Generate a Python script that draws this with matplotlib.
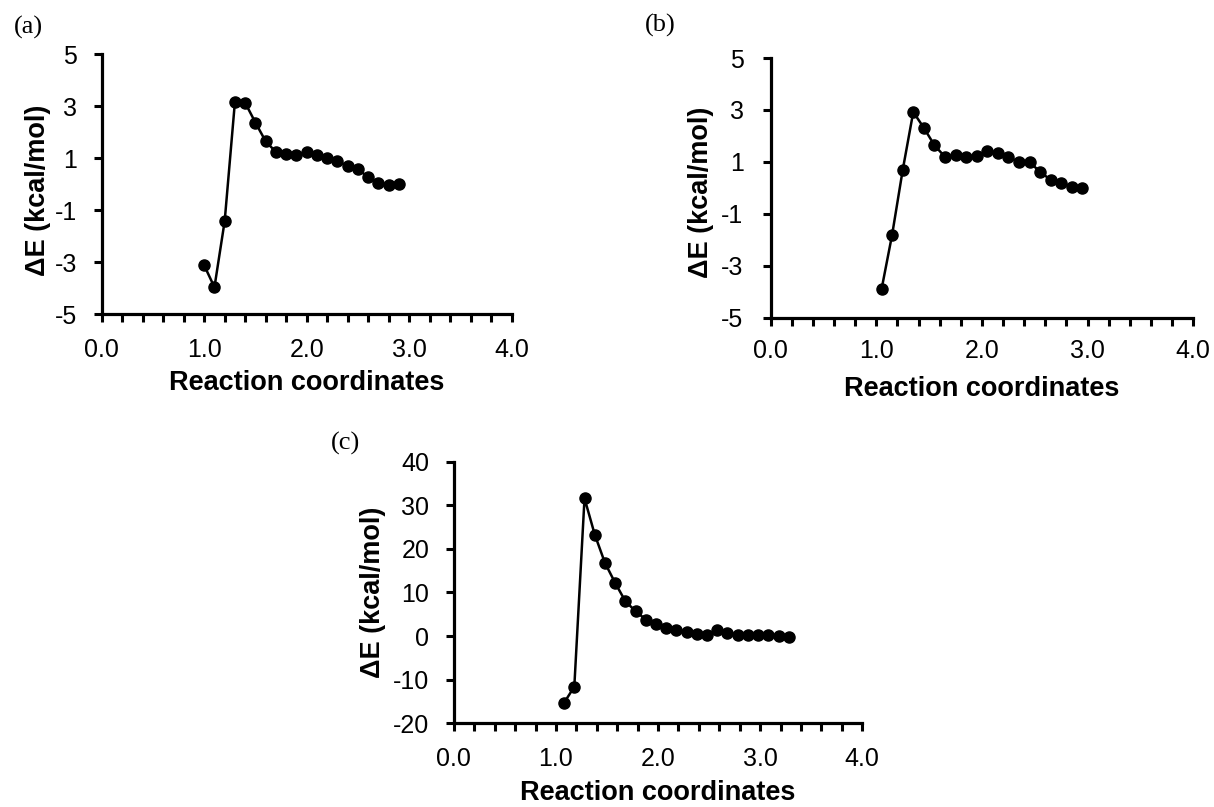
import numpy as np
import matplotlib
matplotlib.use("Agg")
import matplotlib.pyplot as plt
from matplotlib.ticker import MultipleLocator, FormatStrFormatter

# -- Data -------------------------------------------------------
x_a = [1.0, 1.1, 1.2, 1.3, 1.4, 1.5, 1.6, 1.7, 1.8, 1.9,
       2.0, 2.1, 2.2, 2.3, 2.4, 2.5, 2.6, 2.7, 2.8, 2.9]
e_a = [-3.13, -3.97, -1.42, 3.17, 3.12, 2.36, 1.64, 1.23, 1.14, 1.12,
       1.22, 1.10, 1.01, 0.88, 0.69, 0.56, 0.27, 0.05, -0.04, -0.01]

x_b = [1.05, 1.15, 1.25, 1.35, 1.45, 1.55, 1.65, 1.75, 1.85, 1.95,
       2.05, 2.15, 2.25, 2.35, 2.45, 2.55, 2.65, 2.75, 2.85, 2.95]
e_b = [-3.91, -1.81, 0.68, 2.92, 2.31, 1.64, 1.19, 1.26, 1.17, 1.22,
       1.42, 1.32, 1.17, 1.00, 0.98, 0.62, 0.30, 0.20, 0.04, 0.00]

x_c = [1.08, 1.18, 1.28, 1.38, 1.48, 1.58, 1.68, 1.78, 1.88, 1.98,
       2.08, 2.18, 2.28, 2.38, 2.48, 2.58, 2.68, 2.78, 2.88, 2.98,
       3.08, 3.18, 3.28]
e_c = [-15.3, -11.6, 31.6, 23.3, 16.8, 12.2, 8.0, 5.7, 3.8, 2.7,
       1.9, 1.3, 0.9, 0.5, 0.3, 1.3, 0.8, 0.3, 0.15, 0.15,
       0.2, 0.0, -0.1]

yticks_ab = [-5, -3, -1, 1, 3, 5]
yticks_c = [-20, -10, 0, 10, 20, 30, 40]

panels = [("(a)", x_a, e_a, (-5, 5), yticks_ab),
          ("(b)", x_b, e_b, (-5, 5), yticks_ab),
          ("(c)", x_c, e_c, (-20, 40), yticks_c)]

# -- Layout (pixels measured on the 1214x807 reference) ---------
W, H = 1214, 807
# left, right, top, bottom of each axes box in pixels
px_boxes = [(101.7, 511.7, 54.0, 314.0),
            (770.6, 1193.3, 58.0, 317.5),
            (453.8, 862.3, 461.7, 723.3)]
tag_pos = [(28, 27), (660, 25), (345, 443)]
ylab_xy = [(-0.155, 0.477), (-0.165, 0.483), (-0.198, 0.50)]
xlab_xy = [(0.5, -0.265), (0.5, -0.274), (0.5, -0.266)]
xpad = [11.5, 10.0, 11.5]
ypad = [12.0, 14.0, 12.0]

fig = plt.figure(figsize=(W/100, H/100), dpi=100)

for i, (tag, xs, es, ylim, yt) in enumerate(panels):
    l, r, t, b = px_boxes[i]
    ax = fig.add_axes([l/W, 1 - b/H, (r - l)/W, (b - t)/H])
    ax.plot(xs, es, color="black", linewidth=1.8, marker="o",
            markersize=8, markerfacecolor="black", markeredgecolor="black")
    ax.set_xlim(0, 4)
    ax.set_ylim(*ylim)
    ax.xaxis.set_major_locator(MultipleLocator(1.0))
    ax.xaxis.set_minor_locator(MultipleLocator(0.2))
    ax.xaxis.set_major_formatter(FormatStrFormatter("%.1f"))
    ax.set_yticks(yt)
    ax.yaxis.set_major_formatter(FormatStrFormatter("%d"))
    for s in ["top", "right"]:
        ax.spines[s].set_visible(False)
    for s in ["left", "bottom"]:
        ax.spines[s].set_linewidth(2.3)
    ax.tick_params(axis="both", which="both", direction="out",
                   length=5.5, width=2.2, labelsize=18,
                   labelfontfamily="Liberation Sans")
    ax.tick_params(axis="x", which="major", pad=xpad[i])
    ax.tick_params(axis="y", which="major", pad=ypad[i])
    ax.set_xlabel("Reaction coordinates", fontsize=19.5, fontweight="bold",
                  family="Liberation Sans")
    ax.set_ylabel("\u0394E (kcal/mol)", fontsize=19.5, fontweight="bold",
                  family="Liberation Sans")
    ax.xaxis.set_label_coords(*xlab_xy[i])
    ax.yaxis.set_label_coords(*ylab_xy[i])
    ax.xaxis.label.set_verticalalignment("center")
    ax.yaxis.label.set_verticalalignment("center")
    fig.text(tag_pos[i][0]/W, 1 - tag_pos[i][1]/H, tag, fontsize=19,
             family="Liberation Serif", ha="center", va="center")

plt.savefig("out.png", dpi=100)
plt.close()
